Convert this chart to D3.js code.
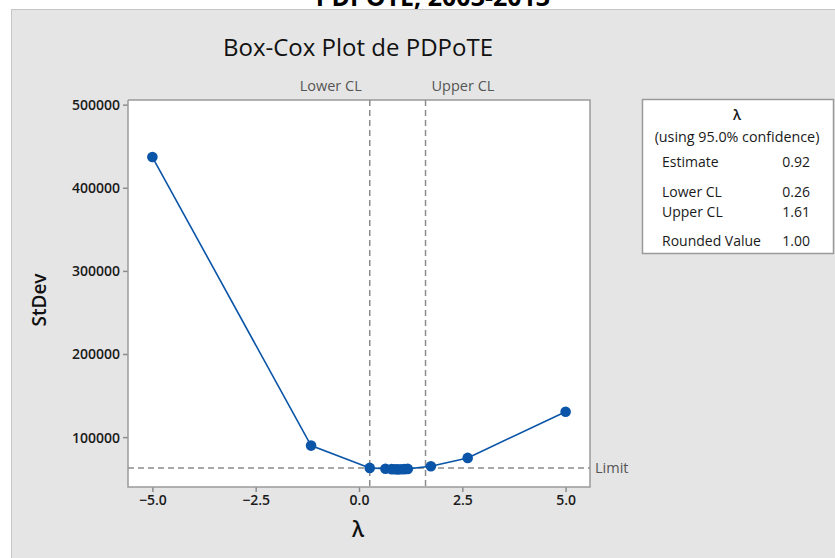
<!DOCTYPE html>
<html>
<head>
<meta charset="utf-8">
<script src="https://cdn.jsdelivr.net/npm/d3@7"></script>
<style>
  body { margin: 0; background: #fff; font-family: 'Open Sans', 'Noto Sans', sans-serif; }
  svg text { fill: #1a1a1a; }
</style>
</head>
<body>
<div id="chart"></div>
<script>
// Box-Cox plot data
const lambdas = [-5.0, -1.16, 0.26, 0.64, 0.79, 0.87, 0.94, 1.02, 1.10, 1.18, 1.74, 2.63, 5.0]
const stdevs = [437000, 89800, 63000, 62000, 61500, 61300, 61200, 61300, 61500, 61800, 65000, 75000, 130500]
const xTicks = [-5.0, -2.5, 0.0, 2.5, 5.0]
const yTicks = [100000, 200000, 300000, 400000, 500000]
const lowerCL = 0.26
const upperCL = 1.61
const limit = 63000
const legendRows = [
  ['Estimate', '0.92'],
  ['Lower CL', '0.26'],
  ['Upper CL', '1.61'],
  ['Rounded Value', '1.00']
]

const width = 835
const height = 558
const plot = { left: 128, top: 100, right: 590, bottom: 487 }
const blue = '#0a55a8'

const svg = d3.select('#chart')
  .append('svg')
  .attr('width', width)
  .attr('height', height)

// caption of the page above the panel (only its lower part shows)
svg.append('text')
  .text('PDPOTE, 2003-2013')
  .attr('x', 433)
  .attr('y', 6)
  .attr('text-anchor', 'middle')
  .style('font-size', '25px')
  .style('font-weight', 'bold')
  .style('fill', '#000')

// gray panel
svg.append('rect')
  .attr('x', 11.5).attr('y', 9.5)
  .attr('width', width).attr('height', height)
  .attr('fill', '#e5e5e5')
  .attr('stroke', '#c6c6c6')

// plot area
svg.append('rect')
  .attr('x', plot.left).attr('y', plot.top)
  .attr('width', plot.right - plot.left).attr('height', plot.bottom - plot.top)
  .attr('fill', '#fff')

const x = d3.scaleLinear().domain([-5.59, 5.59]).range([plot.left, plot.right])
const y = d3.scaleLinear().domain([40000, 505600]).range([plot.bottom, plot.top])

// Title
svg.append('text')
  .text('Box-Cox Plot de PDPoTE')
  .attr('x', 358).attr('y', 56)
  .attr('text-anchor', 'middle')
  .style('font-size', '24px')
  .style('font-weight', 500)
  .style('fill', '#111')

// axes
const xAxis = svg.append('g')
  .attr('transform', `translate(0, ${plot.bottom})`)
  .call(d3.axisBottom(x).tickValues(xTicks).tickFormat(d3.format('.1f')).tickSizeOuter(0).tickSize(5).tickPadding(3))
const yAxis = svg.append('g')
  .attr('transform', `translate(${plot.left}, 0)`)
  .call(d3.axisLeft(y).tickValues(yTicks).tickFormat(d3.format('d')).tickSizeOuter(0).tickSize(5).tickPadding(3))

;[xAxis, yAxis].forEach(g => {
  g.select('.domain').remove()
  g.selectAll('line').attr('stroke', '#8c8c8c').attr('stroke-width', 1.5)
  g.selectAll('text').style('font-size', '14px').style('font-weight', 600)
    .style('font-family', "'Open Sans', sans-serif").attr('fill', '#111')
})
yAxis.selectAll('text').attr('dy', '0.35em')

// frame of plot area
svg.append('path')
  .attr('d', `M${plot.left},${plot.top}V${plot.bottom}H${plot.right}V${plot.top}H${plot.left}`)
  .attr('fill', 'none')
  .attr('stroke', '#9a9a9a')
  .attr('stroke-width', 1.5)

// axis labels
svg.append('text')
  .text('StDev')
  .attr('transform', 'translate(46, 300) rotate(-90)')
  .attr('text-anchor', 'middle')
  .style('font-size', '19px')
  .style('font-weight', 600)
  .style('fill', '#111')
svg.append('text')
  .text('λ')
  .attr('x', 358).attr('y', 537)
  .attr('text-anchor', 'middle')
  .style('font-size', '21px')
  .style('font-weight', 600)
  .style('fill', '#111')

// reference lines
const refStyle = sel => sel.attr('stroke', '#8c8c8c').attr('stroke-width', 1.5).attr('stroke-dasharray', '6,4')
svg.append('line')
  .attr('x1', x(lowerCL)).attr('x2', x(lowerCL))
  .attr('y1', plot.top).attr('y2', plot.bottom)
  .call(refStyle)
svg.append('line')
  .attr('x1', x(upperCL)).attr('x2', x(upperCL))
  .attr('y1', plot.top).attr('y2', plot.bottom)
  .call(refStyle)
svg.append('line')
  .attr('x1', plot.left).attr('x2', plot.right)
  .attr('y1', y(limit)).attr('y2', y(limit))
  .call(refStyle)

svg.append('text')
  .text('Lower CL')
  .attr('x', x(lowerCL) - 8).attr('y', 91)
  .attr('text-anchor', 'end')
  .style('font-size', '14.5px').style('font-weight', 500).style('fill', '#555')
svg.append('text')
  .text('Upper CL')
  .attr('x', x(upperCL) + 6).attr('y', 91)
  .style('font-size', '14.5px').style('font-weight', 500).style('fill', '#555')
svg.append('text')
  .text('Limit')
  .attr('x', plot.right + 5).attr('y', y(limit) + 5)
  .style('font-size', '14.5px').style('font-weight', 500).style('fill', '#555')

// line + points
const pts = lambdas.map((l, i) => [l, stdevs[i]])
svg.append('path')
  .datum(pts)
  .attr('d', d3.line().x(d => x(d[0])).y(d => y(d[1])))
  .attr('fill', 'none')
  .attr('stroke', blue)
  .attr('stroke-width', 1.6)
svg.append('g').selectAll('circle')
  .data(pts)
  .enter().append('circle')
  .attr('cx', d => x(d[0]))
  .attr('cy', d => y(d[1]))
  .attr('r', 5.3)
  .attr('fill', blue)

// legend box
const lg = svg.append('g').attr('transform', 'translate(642, 99)')
lg.append('rect')
  .attr('x', 0.5).attr('y', 0.5)
  .attr('width', 191).attr('height', 154)
  .attr('fill', '#fff')
  .attr('stroke', '#9a9a9a')
  .attr('stroke-width', 1.5)
lg.append('text')
  .text('λ')
  .attr('x', 95).attr('y', 21)
  .attr('text-anchor', 'middle')
  .style('font-size', '14px').style('font-weight', 600)
lg.append('text')
  .text('(using 95.0% confidence)')
  .attr('x', 95).attr('y', 43)
  .attr('text-anchor', 'middle')
  .style('font-size', '14.3px')
const rowY = [68, 98, 118, 147]
legendRows.forEach((r, i) => {
  lg.append('text').text(r[0])
    .attr('x', 20).attr('y', rowY[i])
    .style('font-size', '14px')
  lg.append('text').text(r[1])
    .attr('x', 168).attr('y', rowY[i])
    .attr('text-anchor', 'end')
    .style('font-size', '14px')
})
</script>
</body>
</html>
